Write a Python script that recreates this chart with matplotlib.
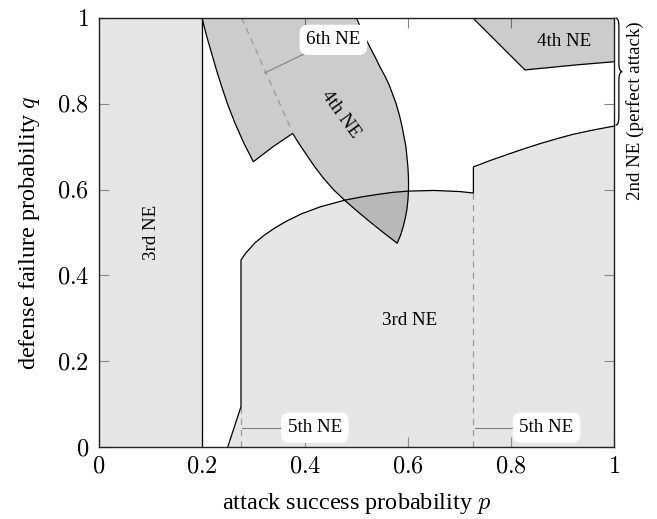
import matplotlib
matplotlib.use('Agg')
import matplotlib.pyplot as plt
from matplotlib.path import Path
from matplotlib.patches import PathPatch

plt.rcParams['font.family'] = ['Liberation Serif', 'DejaVu Serif']
plt.rcParams['mathtext.fontset'] = 'cm'

# region boundaries (p = attack success, q = defense failure)
ne3_left_p = [0.0, 0.2]

ne3_bound_p = [0.250, 0.2757, 0.2757, 0.285, 0.303, 0.320, 0.342, 0.365, 0.3935,
               0.430, 0.4777, 0.510, 0.5424, 0.570, 0.6006, 0.650, 0.700, 0.727,
               0.727, 0.760, 0.791, 0.820, 0.856, 0.890, 0.921, 0.960, 1.000]
ne3_bound_q = [0.000, 0.094, 0.436, 0.452, 0.476, 0.493, 0.511, 0.527, 0.5437,
               0.560, 0.5755, 0.583, 0.589, 0.5935, 0.5965, 0.598, 0.5955, 0.592,
               0.653, 0.668, 0.681, 0.693, 0.707, 0.719, 0.729, 0.739, 0.748]

# 4th NE lens (left edge, inner notch, lower edge, right edge)
ne4_lens_p = [0.200, 0.209, 0.2186, 0.228, 0.238, 0.250, 0.264, 0.281, 0.2997,
              0.338, 0.376, 0.389, 0.403, 0.419, 0.4356, 0.456, 0.478, 0.502,
              0.526, 0.552, 0.579,
              0.586, 0.591, 0.595, 0.598, 0.600, 0.601, 0.601, 0.600, 0.598,
              0.596, 0.592, 0.588, 0.583, 0.577, 0.570, 0.563, 0.555, 0.546,
              0.537, 0.527, 0.512, 0.500]
ne4_lens_q = [1.000, 0.958, 0.918, 0.879, 0.841, 0.798, 0.755, 0.709, 0.665,
              0.700, 0.731, 0.706, 0.681, 0.653, 0.627, 0.599, 0.574, 0.549,
              0.525, 0.500, 0.475,
              0.495, 0.515, 0.535, 0.555, 0.578, 0.600, 0.625, 0.650, 0.675,
              0.700, 0.725, 0.750, 0.775, 0.800, 0.823, 0.845, 0.865, 0.885,
              0.907, 0.930, 0.966, 1.000]

ne4_corner_p = [0.726, 0.827, 0.870, 0.930, 1.000, 1.000]
ne4_corner_q = [1.000, 0.879, 0.884, 0.891, 0.898, 1.000]

ne6_dash_p = [0.277, 0.374]
ne6_dash_q = [1.000, 0.738]

ne5_dash_p = [0.2757, 0.727]
ne5_dash_top = [0.094, 0.592]

ne2_range = [0.75, 1.0]

ticks = [0, 0.2, 0.4, 0.6, 0.8, 1]
tick_labels = ['$0$', '$0.2$', '$0.4$', '$0.6$', '$0.8$', '$1$']

light = '#e6e6e6'
dash_col = '#9a9a9a'

fig = plt.figure(figsize=(6.57, 5.19), dpi=100)
ax = fig.add_axes([99 / 657, 1 - 447 / 519, 515 / 657, 429 / 519])

# 3rd NE, left strip
ax.fill_between(ne3_left_p, 0, 1, color=light, lw=0, zorder=1)
ax.plot([0.2, 0.2], [0, 1], color='k', lw=0.9, zorder=4)

# 3rd NE, main region
ax.fill(ne3_bound_p + [1.0], ne3_bound_q + [0.0], color=light, lw=0, zorder=1)
ax.plot(ne3_bound_p, ne3_bound_q, color='k', lw=0.9, zorder=4)

# 4th NE regions
ax.fill(ne4_lens_p, ne4_lens_q, color='k', alpha=0.2, lw=0, zorder=2)
ax.plot(ne4_lens_p, ne4_lens_q, color='k', lw=0.9, zorder=4)
ax.fill(ne4_corner_p, ne4_corner_q, color='k', alpha=0.2, lw=0, zorder=2)
ax.plot(ne4_corner_p[:5], ne4_corner_q[:5], color='k', lw=0.9, zorder=4)

# dashed borders
ax.plot(ne6_dash_p, ne6_dash_q, color=dash_col, lw=0.9, dashes=(5, 4), zorder=3)
for xp, top in zip(ne5_dash_p, ne5_dash_top):
    ax.plot([xp, xp], [0, top], color=dash_col, lw=0.9, dashes=(5, 4), zorder=3)

lbl = 13.7
box = dict(boxstyle='round,pad=0.35,rounding_size=0.45', fc='white', ec='none')

ax.text(0.102, 0.501, '3rd NE', rotation=90, ha='center', va='center', fontsize=lbl, zorder=5)
ax.text(0.604, 0.296, '3rd NE', ha='center', va='center', fontsize=lbl, zorder=5)
ax.text(0.469, 0.776, '4th NE', rotation=-54, rotation_mode='anchor',
        ha='center', va='center', fontsize=lbl, zorder=5)
ax.text(0.903, 0.945, '4th NE', ha='center', va='center', fontsize=lbl, zorder=5)

# pointer labels
ax.plot([0.322, 0.455], [0.872, 0.949], color='#808080', lw=0.8, zorder=5)
ax.text(0.455, 0.949, '6th NE', ha='center', va='center', fontsize=lbl, bbox=box, zorder=6)
ax.plot([0.277, 0.419], [0.045, 0.045], color='#808080', lw=0.8, zorder=5)
ax.text(0.419, 0.045, '5th NE', ha='center', va='center', fontsize=lbl, bbox=box, zorder=6)
ax.plot([0.730, 0.869], [0.045, 0.045], color='#808080', lw=0.8, zorder=5)
ax.text(0.869, 0.045, '5th NE', ha='center', va='center', fontsize=lbl, bbox=box, zorder=6)

# brace for 2nd NE
y0, y1 = ne2_range
ym = (y0 + y1) / 2
x0, w, r = 1.003, 0.013, 0.02
verts = [(x0, y1), (x0 + w / 2, y1), (x0 + w / 2, y1 - r),
         (x0 + w / 2, ym + r),
         (x0 + w / 2, ym), (x0 + w, ym),
         (x0 + w / 2, ym), (x0 + w / 2, ym - r),
         (x0 + w / 2, y0 + r),
         (x0 + w / 2, y0), (x0, y0)]
codes = [Path.MOVETO, Path.CURVE3, Path.CURVE3, Path.LINETO,
         Path.CURVE3, Path.CURVE3, Path.CURVE3, Path.CURVE3,
         Path.LINETO, Path.CURVE3, Path.CURVE3]
ax.add_patch(PathPatch(Path(verts, codes), fc='none', ec='k', lw=0.9, clip_on=False))
ax.text(1.041, 0.783, '2nd NE (perfect attack)', rotation=90, ha='center', va='center',
        fontsize=lbl, clip_on=False)

ax.set_xlim(0, 1)
ax.set_ylim(0, 1)
ax.set_xticks(ticks, tick_labels)
ax.set_yticks(ticks, tick_labels)
ax.tick_params(direction='in', length=7, width=0.8, color='#8a8a8a',
               top=True, right=True, labelsize=17.5, pad=7)
for s in ax.spines.values():
    s.set_linewidth(1.0)
    s.set_color('#222222')
    s.set_zorder(7)

ax.set_xlabel('attack success probability $p$', fontsize=17.5)
ax.set_ylabel('defense failure probability $q$', fontsize=17.5)
ax.xaxis.set_label_coords(0.5, -0.103)
ax.yaxis.set_label_coords(-0.110, 0.5)

fig.savefig('out.png', dpi=100)
